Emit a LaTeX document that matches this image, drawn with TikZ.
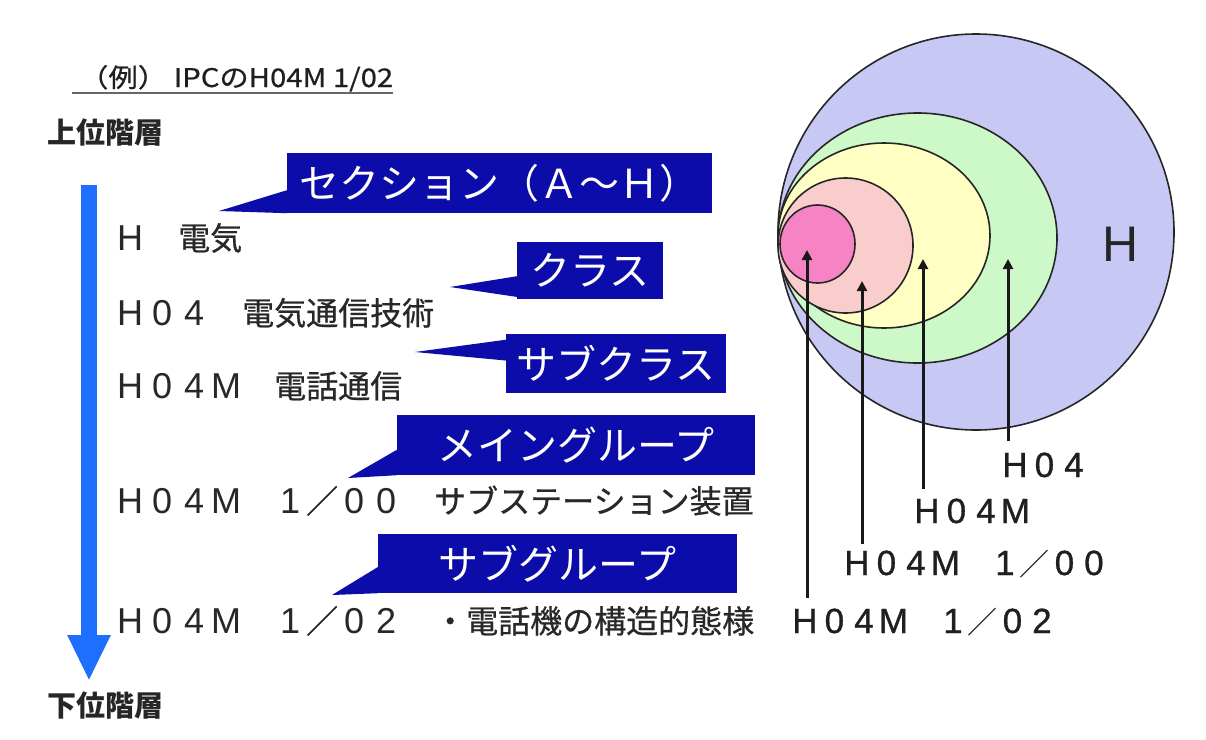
\documentclass[tikz,border=0pt]{standalone}
\usepackage{fontspec}
\setmainfont{Noto Sans CJK JP}
\newfontfamily\jpfb[FakeBold=0.6]{Noto Sans CJK JP}
\newfontfamily\latfont{Liberation Sans}
\newfontfamily\latfontb[FakeBold=0.8]{Liberation Sans}
\usetikzlibrary{arrows.meta,calc}
\definecolor{lav}{RGB}{200,200,245}
\definecolor{grn}{RGB}{205,248,200}
\definecolor{yel}{RGB}{255,255,195}
\definecolor{lpk}{RGB}{250,205,205}
\definecolor{hpk}{RGB}{246,132,196}
\definecolor{cblue}{RGB}{12,12,170}
\definecolor{abl}{RGB}{30,110,255}
\definecolor{txt}{RGB}{40,40,40}
\newlength\cellw
\def\latsz{36}
\let\curlat\latfont
% one Latin character set in a full-width cell
\newcommand\fwl[1]{\makebox[\cellw][c]{\fontsize{\latsz}{\latsz}\curlat #1}}
\newcommand\fwseq[1]{\fwsequ#1\relax}
\def\fwsequ#1{\ifx#1\relax\else\fwl{#1}\expandafter\fwsequ\fi}
\tikzset{
  body/.style={anchor=base west,inner sep=0pt,text=txt,
    font=\jpfb\fontsize{32}{32}\selectfont\setlength\cellw{32pt}\def\latsz{36}\let\curlat\latfont},
  rlabel/.style={anchor=base west,inner sep=0pt,text=black!88,
    font=\fontsize{30}{30}\selectfont\setlength\cellw{29.5pt}\def\latsz{35}\let\curlat\latfontb},
  level/.style={anchor=base west,inner sep=0pt,text=black!85,font=\bfseries\fontsize{29}{29}\selectfont},
  callout/.style={fill=cblue,text=white,inner sep=0pt,font=\fontsize{40}{40}\selectfont},
  wedge/.style={fill=cblue},
  ring/.style={draw=black!85,line width=1.6pt},
  uparrow/.style={draw=black!90,line width=3pt,-{Triangle[width=10pt,length=10pt]}}
}
\begin{document}
\begin{tikzpicture}[x=1pt,y=-1pt]
\useasboundingbox[fill=white] (0,0) rectangle (1206,739);

% title
\node[anchor=base west,inner sep=0pt,text=black!88,font=\jpfb] (title) at (79,87)
  {\resizebox{314pt}{22pt}{（例） IPCのH04M 1/02}};
\coordinate (u1) at (72,93);
\coordinate (u2) at (393,93);
\draw[black!60,line width=2pt] (u1) -- (u2);

% hierarchy labels
\node[level] (top) at (47,143) {上位階層};
\node[level] (bot) at (47,716) {下位階層};
\coordinate (ba) at (89,185);
\coordinate (bb) at (89,681);
\draw[abl,line width=16pt,-{Triangle[width=40pt,length=46pt]}] (ba) -- (bb);

% rows
\node[body] (r1) at (114,250) {\fwl{H}　電気};
\node[body] (r2) at (114,325) {\fwseq{H04}　電気通信技術};
\node[body] (r3) at (114,398) {\fwseq{H04M}　電話通信};
\node[body] (r4) at (114,513) {\fwseq{H04M}　\fwl{1}／\fwseq{00}　サブステーション装置};
\node[body] (r5) at (114,633) {\fwseq{H04M}　\fwl{1}／\fwseq{02}　・電話機の構造的態様};

% callouts
\node[callout,minimum width=425pt,minimum height=60pt] (b1) at (499.5,183) {セクション（Ａ～Ｈ）};
\node[callout,minimum width=146pt,minimum height=57pt] (b2) at (590,270.5) {クラス};
\node[callout,minimum width=220pt,minimum height=59pt] (b3) at (616,363.5) {サブクラス};
\node[callout,minimum width=358pt,minimum height=60pt] (b4) at (576,445) {メイングループ};
\node[callout,minimum width=359pt,minimum height=59pt] (b5) at (557.5,563.5) {サブグループ};

\coordinate (t1) at (219,211);
\coordinate (t2) at (450,287);
\coordinate (t3) at (415,352);
\coordinate (t4) at (348,478);
\coordinate (t5) at (332,595);
\fill[wedge] (t1) -- ($(b1.south west)!0.38!(b1.north west)$) -- (b1.south west) -- cycle;
\fill[wedge] (t2) -- ($(b2.south west)!0.40!(b2.north west)$) -- ($(b2.south west)!0.04!(b2.north west)$) -- cycle;
\fill[wedge] (t3) -- ($(b3.north west)!0.10!(b3.south west)$) -- ($(b3.north west)!0.45!(b3.south west)$) -- cycle;
\fill[wedge] (t4) -- ($(b4.south west)!0.42!(b4.north west)$) -- (b4.south west) -- cycle;
\fill[wedge] (t5) -- ($(b5.south west)!0.44!(b5.north west)$) -- (b5.south west) -- cycle;

% nested circles
\coordinate (cH) at (976,232);
\coordinate (c4) at (917.5,238);
\coordinate (c4M) at (884,235.5);
\coordinate (c00) at (845.5,245.5);
\coordinate (c02) at (817.5,244);
\draw[ring,fill=lav] (cH) ellipse [x radius=198pt,y radius=198pt];
\draw[ring,fill=grn] (c4) ellipse [x radius=139.5pt,y radius=125pt];
\draw[ring,fill=yel] (c4M) ellipse [x radius=106pt,y radius=92.5pt];
\draw[ring,fill=lpk] (c00) ellipse [x radius=67.5pt,y radius=67.5pt];
\draw[ring,fill=hpk] (c02) ellipse [x radius=37.5pt,y radius=39pt];
\node[inner sep=0pt,text=black!85,font=\latfont\fontsize{50}{50}\selectfont] (hl) at (1121,244) {H};

% pointer arrows
\coordinate (p1) at (807,250);
\coordinate (s1) at (807,598);
\coordinate (p2) at (862,281);
\coordinate (s2) at (862,544);
\coordinate (p3) at (923,259);
\coordinate (s3) at (923,489);
\coordinate (p4) at (1008,259);
\coordinate (s4) at (1008,441);
\draw[uparrow] (s1) -- (p1);
\draw[uparrow] (s2) -- (p2);
\draw[uparrow] (s3) -- (p3);
\draw[uparrow] (s4) -- (p4);

% right labels
\node[rlabel] (l4) at (1000,477) {\fwseq{H04}};
\node[rlabel] (l4M) at (912,523) {\fwseq{H04M}};
\node[rlabel] (l00) at (842,575) {\fwseq{H04M}　\fwl{1}／\fwseq{00}};
\node[rlabel] (l02) at (790,633) {\fwseq{H04M}　\fwl{1}／\fwseq{02}};
\end{tikzpicture}
\end{document}
